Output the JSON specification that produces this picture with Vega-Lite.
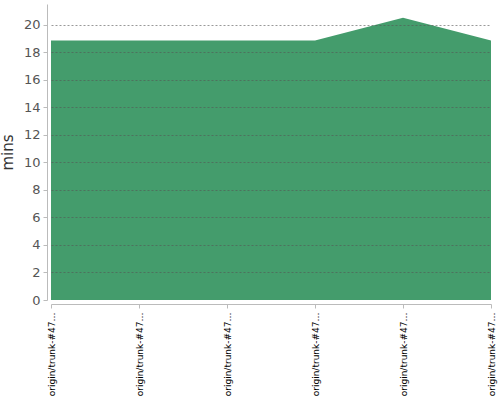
{
  "$schema": "https://vega.github.io/schema/vega-lite/v6.json",
  "width": 440,
  "height": 296,
  "autosize": {"type": "none"},
  "padding": {"left": 51, "top": 4, "right": 9, "bottom": 100},
  "background": "white",
  "config": {"view": {"stroke": null}},
  "data": {
    "values": [
      {"build": "origin/trunk-#4701 (a1b2c3)", "mins": 18.85},
      {"build": "origin/trunk-#4702 (d4e5f6)", "mins": 18.85},
      {"build": "origin/trunk-#4703 (a7b8c9)", "mins": 18.85},
      {"build": "origin/trunk-#4704 (d0e1f2)", "mins": 18.85},
      {"build": "origin/trunk-#4705 (a3b4c5)", "mins": 20.5},
      {"build": "origin/trunk-#4706 (d6e7f8)", "mins": 18.85}
    ]
  },
  "mark": {"type": "area", "color": "#449C6C", "opacity": 1, "interpolate": "linear"},
  "encoding": {
    "x": {
      "field": "build",
      "type": "ordinal",
      "sort": null,
      "scale": {"type": "point", "padding": 0},
      "axis": {
        "title": null,
        "labelAngle": -90,
        "labelAlign": "right",
        "labelBaseline": "middle",
        "labelFontSize": 9,
        "labelFont": "DejaVu Sans",
        "labelColor": "#000",
        "labelLimit": 84,
        "labelPadding": 4,
        "offset": 4,
        "domainColor": "#bbb",
        "tickColor": "#bbb",
        "tickSize": 4,
        "grid": false
      }
    },
    "y": {
      "field": "mins",
      "type": "quantitative",
      "scale": {"domain": [0, 21.5], "nice": false, "zero": true},
      "axis": {
        "title": "mins",
        "titleFont": "DejaVu Sans",
        "titleFontSize": 15,
        "titleFontWeight": "normal",
        "titleColor": "#333",
        "titlePadding": 8,
        "values": [0, 2, 4, 6, 8, 10, 12, 14, 16, 18, 20],
        "labelFont": "DejaVu Sans",
        "labelFontSize": 13,
        "labelColor": "#555",
        "labelPadding": 3,
        "offset": 4,
        "domainColor": "#bbb",
        "tickColor": "#bbb",
        "tickSize": 4,
        "grid": true,
        "gridColor": "#555",
        "gridOpacity": {"condition": {"test": "datum.value === 0", "value": 0}, "value": 0.6},
        "gridDash": [2, 2],
        "zindex": 1
      }
    }
  }
}
